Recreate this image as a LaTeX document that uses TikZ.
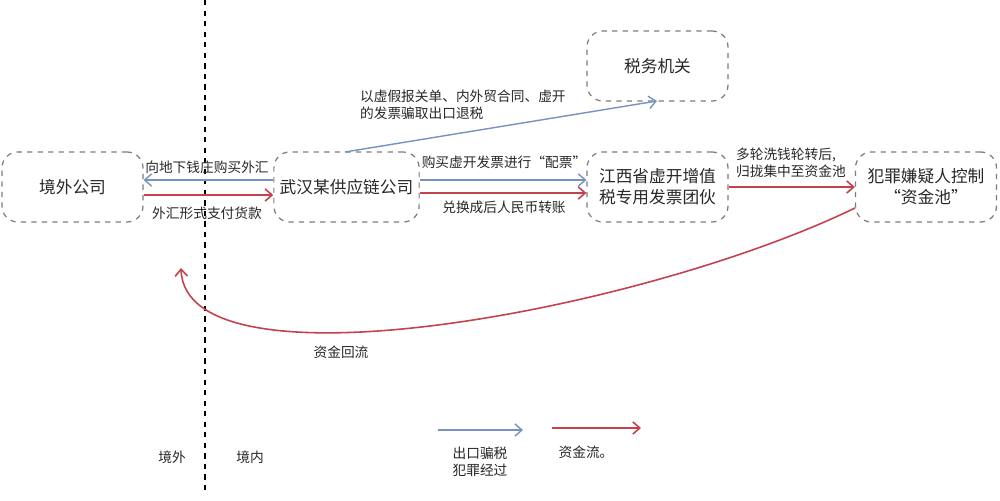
\documentclass[tikz,border=0pt]{standalone}
\usepackage{fontspec}
\setmainfont{Noto Sans CJK SC}
\usetikzlibrary{arrows.meta}
\definecolor{bl}{RGB}{118,146,192}
\definecolor{rd}{RGB}{196,66,78}
\definecolor{bx}{RGB}{125,125,125}
\definecolor{tx}{RGB}{40,40,40}
\begin{document}
\begin{tikzpicture}[x=0.02cm,y=-0.02cm,
  box/.style={draw=bx,dashed,line width=0.7pt,rounded corners=9pt,minimum width=2.82cm,minimum height=1.4cm,align=center,font=\fontsize{9.5}{12}\selectfont,text=tx},
  lab/.style={font=\fontsize{7.8}{9.5}\selectfont,text=tx,inner sep=1pt},
  ba/.style={draw=bl,line width=0.8pt,-{Straight Barb[length=4pt,width=7pt]}},
  ra/.style={draw=rd,line width=0.9pt,-{Straight Barb[length=4pt,width=7pt]}}]
\useasboundingbox (0,0) rectangle (1000,500);
\fill[white] (0,0) rectangle (1000,500);
% border divider
\draw[black,dashed,line width=0.8pt] (205,0) -- (205,490);
% boxes
\node[box] (jw) at (72.5,187) {境外公司};
\node[box] (wh) at (346.5,187) {武汉某供应链公司};
\node[box] (sw) at (657.5,66) {税务机关};
\node[box] (jx) at (657.5,187) {江西省虚开增值\\税专用发票团伙};
\node[box] (fz) at (926,187) {犯罪嫌疑人控制\\“资金池”};
% arrows between 武汉 and 境外
\draw[ba] (wh.west |- 0,180) -- (jw.east |- 0,180);
\draw[ra] (jw.east |- 0,195) -- (wh.west |- 0,195);
\node[lab] at (207,167) {向地下钱庄购买外汇};
\node[lab] at (207,213) {外汇形式支付货款};
% 武汉 -> 税务机关
\coordinate (whtop) at (345,152);
\coordinate (swbot) at (657,101);
\draw[ba] (whtop) -- (swbot);
\node[lab,anchor=west,align=left] at (358,105) {以虚假报关单、内外贸合同、虚开\\的发票骗取出口退税};
% 武汉 -> 江西
\draw[ba] (wh.east |- 0,180) -- (jx.west |- 0,180);
\draw[ra] (wh.east |- 0,193) -- (jx.west |- 0,193);
\node[lab] at (504,162) {购买虚开发票进行“配票”};
\node[lab] at (504,207) {兑换成后人民币转账};
% 江西 -> 犯罪
\draw[ra] (jx.east) -- (fz.west);
\node[lab,anchor=west,align=left] at (734,163) {多轮洗钱轮转后,\\归拢集中至资金池};
% return flow
\coordinate (fzs) at (855,208);
\coordinate (back) at (181,268);
\draw[ra] (fzs) .. controls (640,312) and (185,395) .. (back);
\node[lab] at (341,352) {资金回流};
% legend
\coordinate (l1a) at (438,430); \coordinate (l1b) at (523,430);
\coordinate (l2a) at (552,428); \coordinate (l2b) at (641,428);
\draw[ba] (l1a) -- (l1b);
\draw[ra] (l2a) -- (l2b);
\node[lab,align=left] at (480,462) {出口骗税\\犯罪经过};
\node[lab] at (586,452) {资金流。};
\node[lab] at (172,457) {境外};
\node[lab] at (250,457) {境内};
\end{tikzpicture}
\end{document}
